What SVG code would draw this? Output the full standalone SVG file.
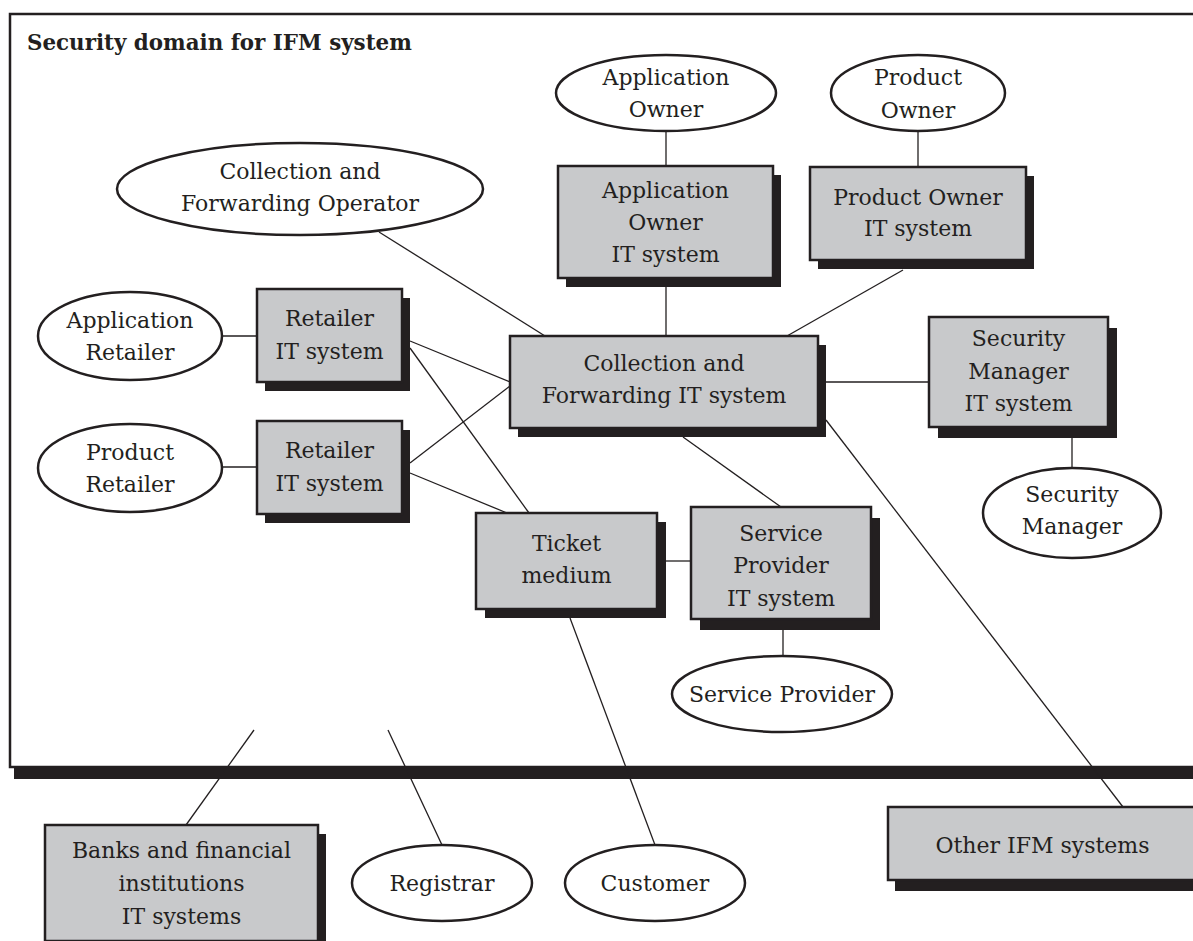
<svg xmlns="http://www.w3.org/2000/svg" width="1193" height="941" viewBox="0 0 1193 941">
  <style>
    .box { fill: #c8c9cb; stroke: #231f20; stroke-width: 2.5; }
    .shadow { fill: #231f20; }
    .oval { fill: #ffffff; stroke: #231f20; stroke-width: 2.5; }
    .link { stroke: #231f20; stroke-width: 1.3; fill: none; }
    text { font-family: "DejaVu Serif", "Liberation Serif", serif; font-size: 22px; fill: #231f20; text-anchor: middle; dominant-baseline: central; }
    .title { font-weight: bold; text-anchor: start; font-size: 21.4px; }
  </style>

  <rect x="0" y="0" width="1193" height="941" fill="#ffffff"/>

  <!-- security domain frame with its shadow bar -->
  <g id="domain">
    <rect class="shadow" x="14" y="767" width="1190" height="12"/>
    <rect x="10" y="14" width="1200" height="753" fill="#ffffff" stroke="#231f20" stroke-width="2.5"/>
    <text class="title" x="27" y="42">Security domain for IFM system</text>
  </g>

  <!-- connectors -->
  <g id="connectors">
    <line class="link" x1="379" y1="232" x2="545" y2="336"/>
    <line class="link" x1="666" y1="131" x2="666" y2="166"/>
    <line class="link" x1="666" y1="287" x2="666" y2="336"/>
    <line class="link" x1="918" y1="131" x2="918" y2="167"/>
    <line class="link" x1="903" y1="270" x2="787" y2="336"/>
    <line class="link" x1="222" y1="336" x2="257" y2="336"/>
    <line class="link" x1="222" y1="467" x2="257" y2="467"/>
    <line class="link" x1="410" y1="341" x2="510" y2="382"/>
    <line class="link" x1="410" y1="348" x2="529" y2="513"/>
    <line class="link" x1="410" y1="463" x2="510" y2="386"/>
    <line class="link" x1="410" y1="473" x2="507" y2="513"/>
    <line class="link" x1="826" y1="382" x2="929" y2="382"/>
    <line class="link" x1="1072" y1="437" x2="1072" y2="468"/>
    <line class="link" x1="683" y1="437" x2="781" y2="507"/>
    <line class="link" x1="665" y1="561" x2="691" y2="561"/>
    <line class="link" x1="783" y1="629" x2="783" y2="656"/>
    <line class="link" x1="826" y1="420" x2="1123" y2="807"/>
    <line class="link" x1="570" y1="618" x2="655" y2="845"/>
    <line class="link" x1="388" y1="730" x2="442" y2="845"/>
    <line class="link" x1="254" y1="730" x2="186" y2="825"/>
  </g>

  <!-- actors -->
  <g id="app-owner">
    <ellipse class="oval" cx="666" cy="93" rx="110" ry="38"/>
    <text x="666" y="77">Application</text>
    <text x="666" y="109">Owner</text>
  </g>
  <g id="product-owner">
    <ellipse class="oval" cx="918" cy="93" rx="87" ry="38"/>
    <text x="918" y="77">Product</text>
    <text x="918" y="110">Owner</text>
  </g>
  <g id="cf-operator">
    <ellipse class="oval" cx="300" cy="189" rx="183" ry="46"/>
    <text x="300" y="171">Collection and</text>
    <text x="300" y="203">Forwarding Operator</text>
  </g>
  <g id="app-retailer">
    <ellipse class="oval" cx="130" cy="336" rx="92" ry="44"/>
    <text x="130" y="320">Application</text>
    <text x="130" y="352">Retailer</text>
  </g>
  <g id="product-retailer">
    <ellipse class="oval" cx="130" cy="468" rx="92" ry="44"/>
    <text x="130" y="452">Product</text>
    <text x="130" y="484">Retailer</text>
  </g>
  <g id="security-manager">
    <ellipse class="oval" cx="1072" cy="513" rx="89" ry="45"/>
    <text x="1072" y="494">Security</text>
    <text x="1072" y="526">Manager</text>
  </g>
  <g id="service-provider">
    <ellipse class="oval" cx="782" cy="694" rx="110" ry="38"/>
    <text x="782" y="694">Service Provider</text>
  </g>
  <g id="registrar">
    <ellipse class="oval" cx="442" cy="883" rx="90" ry="38"/>
    <text x="442" y="883">Registrar</text>
  </g>
  <g id="customer">
    <ellipse class="oval" cx="655" cy="883" rx="90" ry="38"/>
    <text x="655" y="883">Customer</text>
  </g>

  <!-- IT systems -->
  <g id="app-owner-it">
    <rect class="shadow" x="566" y="175" width="215" height="112"/>
    <rect class="box" x="558" y="166" width="215" height="112"/>
    <text x="665.5" y="190">Application</text>
    <text x="665.5" y="222">Owner</text>
    <text x="665.5" y="254">IT system</text>
  </g>
  <g id="product-owner-it">
    <rect class="shadow" x="818" y="176" width="216" height="93"/>
    <rect class="box" x="810" y="167" width="216" height="93"/>
    <text x="918" y="197">Product Owner</text>
    <text x="918" y="228">IT system</text>
  </g>
  <g id="cf-it">
    <rect class="shadow" x="518" y="345" width="308" height="92"/>
    <rect class="box" x="510" y="336" width="308" height="92"/>
    <text x="664" y="363">Collection and</text>
    <text x="664" y="395">Forwarding IT system</text>
  </g>
  <g id="retailer-it-1">
    <rect class="shadow" x="265" y="298" width="145" height="93"/>
    <rect class="box" x="257" y="289" width="145" height="93"/>
    <text x="329.5" y="318">Retailer</text>
    <text x="329.5" y="351">IT system</text>
  </g>
  <g id="retailer-it-2">
    <rect class="shadow" x="265" y="430" width="145" height="93"/>
    <rect class="box" x="257" y="421" width="145" height="93"/>
    <text x="329.5" y="450">Retailer</text>
    <text x="329.5" y="483">IT system</text>
  </g>
  <g id="ticket-medium">
    <rect class="shadow" x="485" y="522" width="181" height="96"/>
    <rect class="box" x="476" y="513" width="181" height="96"/>
    <text x="566.5" y="543">Ticket</text>
    <text x="566.5" y="575">medium</text>
  </g>
  <g id="service-provider-it">
    <rect class="shadow" x="700" y="518" width="180" height="112"/>
    <rect class="box" x="691" y="507" width="180" height="112"/>
    <text x="781" y="533">Service</text>
    <text x="781" y="565">Provider</text>
    <text x="781" y="598">IT system</text>
  </g>
  <g id="security-manager-it">
    <rect class="shadow" x="938" y="328" width="179" height="110"/>
    <rect class="box" x="929" y="317" width="179" height="110"/>
    <text x="1018.5" y="338">Security</text>
    <text x="1018.5" y="371">Manager</text>
    <text x="1018.5" y="403">IT system</text>
  </g>
  <g id="banks-it">
    <rect class="shadow" x="53" y="834" width="273" height="116"/>
    <rect class="box" x="45" y="825" width="273" height="116"/>
    <text x="181.5" y="850">Banks and financial</text>
    <text x="181.5" y="883">institutions</text>
    <text x="181.5" y="916">IT systems</text>
  </g>
  <g id="other-ifm">
    <rect class="shadow" x="895" y="818" width="310" height="73"/>
    <rect class="box" x="888" y="807" width="310" height="73"/>
    <text x="1042.5" y="845">Other IFM systems</text>
  </g>
</svg>
